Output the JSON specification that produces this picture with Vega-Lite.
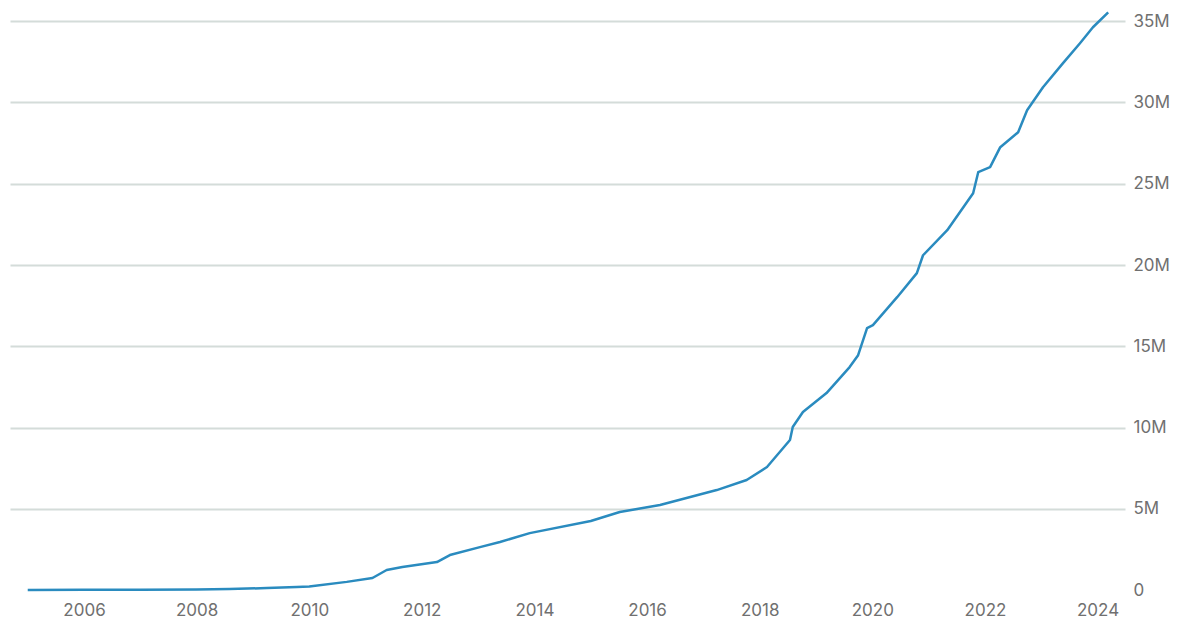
{
  "$schema": "https://vega.github.io/schema/vega-lite/v6.json",
  "width": 1115,
  "height": 585,
  "padding": {"left": 10, "top": 5, "right": 68, "bottom": 41},
  "autosize": {"type": "none"},
  "background": "white",
  "config": {"view": {"stroke": null}, "font": "Inter"},
  "data": {
    "values": [
      {"date": "2005-01-01", "members": 0},
      {"date": "2006-01-01", "members": 10000},
      {"date": "2007-01-01", "members": 20000},
      {"date": "2008-01-01", "members": 30000},
      {"date": "2008-08-01", "members": 60000},
      {"date": "2009-04-01", "members": 120000},
      {"date": "2009-10-12", "members": 180000},
      {"date": "2010-01-01", "members": 220000},
      {"date": "2010-09-01", "members": 500000},
      {"date": "2011-02-15", "members": 740000},
      {"date": "2011-05-18", "members": 1230000},
      {"date": "2011-08-28", "members": 1410000},
      {"date": "2012-04-08", "members": 1720000},
      {"date": "2012-07-01", "members": 2150000},
      {"date": "2013-01-12", "members": 2640000},
      {"date": "2013-05-22", "members": 2950000},
      {"date": "2013-12-01", "members": 3500000},
      {"date": "2015-01-01", "members": 4250000},
      {"date": "2015-07-08", "members": 4800000},
      {"date": "2016-03-25", "members": 5230000},
      {"date": "2017-03-28", "members": 6150000},
      {"date": "2017-10-08", "members": 6770000},
      {"date": "2018-02-17", "members": 7570000},
      {"date": "2018-07-16", "members": 9230000},
      {"date": "2018-08-03", "members": 10030000},
      {"date": "2018-10-08", "members": 10950000},
      {"date": "2019-03-10", "members": 12120000},
      {"date": "2019-08-07", "members": 13720000},
      {"date": "2019-10-01", "members": 14450000},
      {"date": "2019-11-28", "members": 16120000},
      {"date": "2020-01-05", "members": 16300000},
      {"date": "2020-06-10", "members": 18020000},
      {"date": "2020-10-16", "members": 19500000},
      {"date": "2020-11-25", "members": 20600000},
      {"date": "2021-05-01", "members": 22140000},
      {"date": "2021-10-16", "members": 24420000},
      {"date": "2021-11-18", "members": 25710000},
      {"date": "2022-02-03", "members": 26020000},
      {"date": "2022-04-10", "members": 27250000},
      {"date": "2022-08-04", "members": 28170000},
      {"date": "2022-10-01", "members": 29520000},
      {"date": "2023-01-12", "members": 30940000},
      {"date": "2023-05-22", "members": 32420000},
      {"date": "2023-09-09", "members": 33650000},
      {"date": "2023-12-02", "members": 34630000},
      {"date": "2024-03-10", "members": 35550000}
    ]
  },
  "mark": {"type": "line", "color": "#2a8bbf", "strokeWidth": 2.5, "interpolate": "linear", "strokeJoin": "round"},
  "encoding": {
    "x": {
      "field": "date",
      "type": "temporal",
      "title": null,
      "scale": {"domain": ["2004-09-08", "2024-06-27"]},
      "axis": {
        "format": "%Y",
        "tickCount": {"interval": "year", "step": 2},
        "grid": false,
        "domain": false,
        "ticks": false,
        "labelPadding": 12,
        "labelFontSize": 17,
        "labelColor": "#707070",
        "labelFlush": false
      }
    },
    "y": {
      "field": "members",
      "type": "quantitative",
      "title": null,
      "scale": {"domain": [0, 36000000], "nice": false},
      "axis": {
        "orient": "right",
        "values": [0, 5000000, 10000000, 15000000, 20000000, 25000000, 30000000, 35000000],
        "labelExpr": "datum.value === 0 ? '0' : format(datum.value / 1000000, 'd') + 'M'",
        "domain": false,
        "ticks": false,
        "labelPadding": 8,
        "labelFontSize": 17,
        "labelColor": "#707070",
        "gridColor": "#d4dcd9",
        "gridWidth": 2,
        "gridOpacity": {"condition": {"test": "datum.value === 0", "value": 0}, "value": 1}
      }
    }
  }
}
